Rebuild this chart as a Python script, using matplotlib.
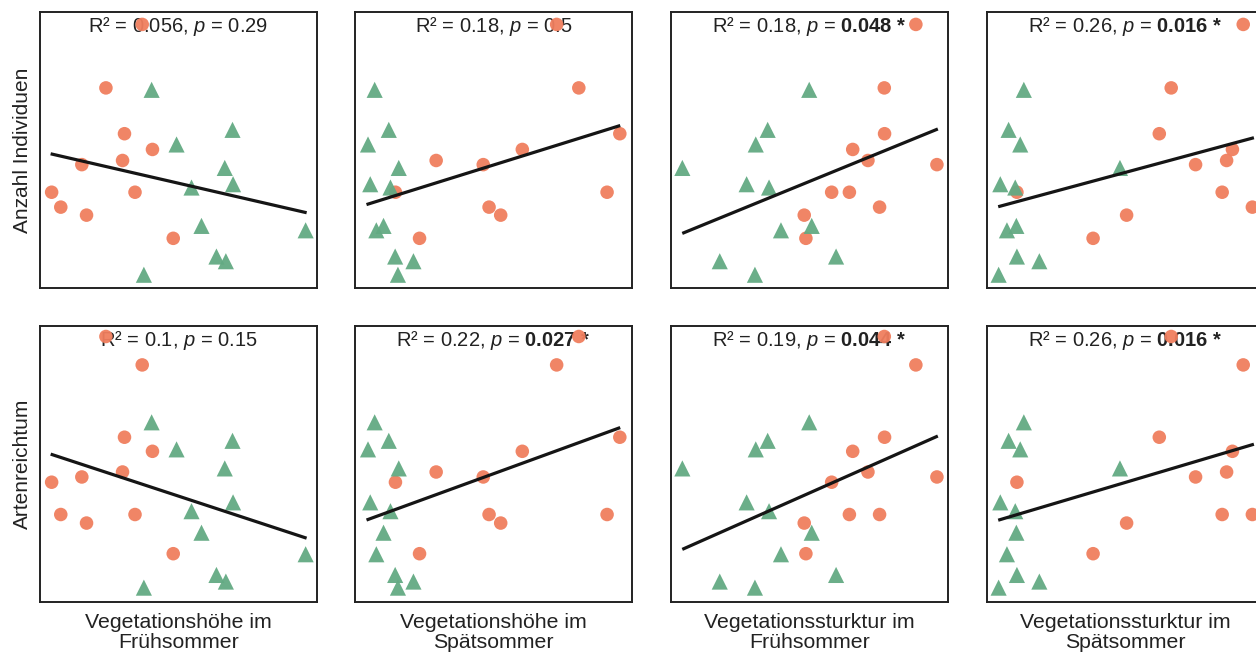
import matplotlib
matplotlib.use('Agg')
import matplotlib.pyplot as plt
import numpy as np

plt.rcParams['font.family'] = ['Liberation Sans', 'DejaVu Sans']
plt.rcParams['mathtext.fontset'] = 'custom'
plt.rcParams['mathtext.rm'] = 'Liberation Sans'
plt.rcParams['mathtext.it'] = 'Liberation Sans:italic'
plt.rcParams['mathtext.bf'] = 'Liberation Sans:bold'

# Prädiktoren (Spalten) und Zielgrößen (Zeilen)
praedikatoren = ['Vegetationshöhe im\nFrühsommer', 'Vegetationshöhe im\nSpätsommer',
                 'Vegetationssturktur im\nFrühsommer', 'Vegetationssturktur im\nSpätsommer']
zielgroessen = ['Anzahl Individuen', 'Artenreichtum']

# x-Werte (skaliert 0-1) der Kreis-Flächen, je Prädiktor
x_kreis = [
    [0.369, 0.238, 0.305, 0.406, 0.298, 0.151, 0.042, 0.343, 0.075, 0.168, 0.481],
    [0.728, 0.808, 0.956, 0.604, 0.293, 0.463, 0.146, 0.910, 0.484, 0.526, 0.233],
    [0.884, 0.770, 0.771, 0.656, 0.711, 0.960, 0.580, 0.644, 0.753, 0.481, 0.487],
    [0.925, 0.665, 0.622, 0.886, 0.865, 0.753, 0.108, 0.849, 0.958, 0.504, 0.383],
]
# x-Werte der Dreieck-Flächen, je Prädiktor
x_dreieck = [
    [0.403, 0.695, 0.493, 0.667, 0.697, 0.547, 0.583, 0.959, 0.637, 0.671, 0.375],
    [0.071, 0.122, 0.047, 0.158, 0.055, 0.128, 0.103, 0.077, 0.145, 0.211, 0.155],
    [0.499, 0.349, 0.306, 0.041, 0.273, 0.354, 0.508, 0.397, 0.596, 0.176, 0.303],
    [0.133, 0.078, 0.120, 0.480, 0.048, 0.102, 0.106, 0.072, 0.108, 0.189, 0.042],
]
# y-Werte (skaliert 0-1), je Zielgröße
y_kreis = [
    [0.955, 0.725, 0.559, 0.502, 0.462, 0.447, 0.347, 0.347, 0.293, 0.264, 0.180],
    [0.859, 0.962, 0.597, 0.546, 0.471, 0.453, 0.434, 0.317, 0.317, 0.286, 0.175],
]
y_dreieck = [
    [0.718, 0.573, 0.520, 0.435, 0.376, 0.364, 0.225, 0.209, 0.114, 0.097, 0.048],
    [0.651, 0.584, 0.553, 0.484, 0.361, 0.329, 0.251, 0.173, 0.098, 0.074, 0.052],
]

# Regressionsgeraden (Endpunkte)
linie_x = [[0.044, 0.957], [0.047, 0.952], [0.046, 0.958], [0.046, 0.958]]
linie_y = [
    [[0.485, 0.274], [0.304, 0.587], [0.200, 0.574], [0.296, 0.543]],
    [[0.534, 0.233], [0.299, 0.630], [0.193, 0.599], [0.298, 0.570]],
]

# Statistik
r2_werte = [['0.056', '0.18', '0.18', '0.26'], ['0.1', '0.22', '0.19', '0.26']]
p_werte = [['0.29', '0.5', '0.048', '0.016'], ['0.15', '0.027', '0.044', '0.016']]
signifikant = [[False, False, True, True], [False, True, True, True]]

farbe_kreis = '#F07E5E'
farbe_dreieck = '#63AA83'

fig = plt.figure(figsize=(12.56, 6.52), dpi=100)

links = [40, 355, 671, 987]
oben = [12, 326]
breite, hoehe = 277, 276

for r in range(2):
    for c in range(4):
        ax = fig.add_axes([links[c] / 1256, 1 - (oben[r] + hoehe) / 652,
                           breite / 1256, hoehe / 652])
        ax.scatter(x_kreis[c], y_kreis[r], s=95, marker='o', color=farbe_kreis,
                   edgecolors='none', alpha=0.95, zorder=3)
        ax.scatter(x_dreieck[c], y_dreieck[r], s=135, marker='^', color=farbe_dreieck,
                   edgecolors='none', alpha=0.95, zorder=3)
        ax.plot(linie_x[c], linie_y[r][c], color='#151515', lw=2.3, zorder=4)

        if signifikant[r][c]:
            txt = r'R² = %s, $p$ = $\mathbf{%s}$ $\mathbf{*}$' % (r2_werte[r][c], p_werte[r][c])
        else:
            txt = r'R² = %s, $p$ = %s' % (r2_werte[r][c], p_werte[r][c])
        ax.text(0.5, 0.948, txt, transform=ax.transAxes, ha='center', va='center',
                fontsize=14.5, color='#222222', zorder=2)

        ax.set_xlim(0, 1)
        ax.set_ylim(0, 1)
        ax.set_xticks([])
        ax.set_yticks([])
        for sp in ax.spines.values():
            sp.set_linewidth(1.4)
            sp.set_color('#222222')

        if c == 0:
            ax.set_ylabel(zielgroessen[r], fontsize=15, labelpad=6, color='#222222')
        if r == 1:
            ax.set_xlabel(praedikatoren[c], fontsize=15.3, labelpad=8,
                          linespacing=1.08, color='#222222')

fig.savefig('out.png', dpi=100)
